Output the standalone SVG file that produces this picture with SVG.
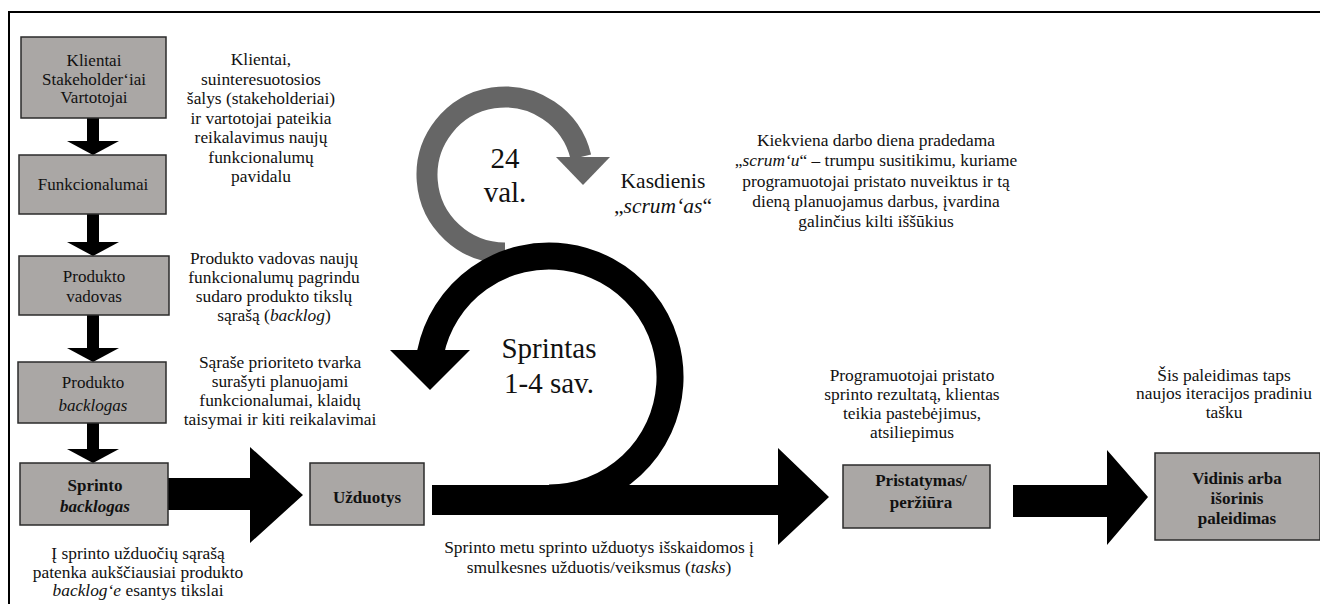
<svg xmlns="http://www.w3.org/2000/svg" width="1320" height="604" viewBox="0 0 1320 604">
<style>
.box{fill:#aaa7a5;stroke:#2b2b2b;stroke-width:1.5}
.t{font-family:"Liberation Serif","Times New Roman",Tinos,serif;font-size:17.4px;fill:#111;text-anchor:middle}
.bx{font-size:17px}
.b{font-weight:bold}
.i{font-style:italic}
.big{font-size:29px}
.mid{font-size:21.5px}
.blk{fill:#000}
.gry{fill:#666}
</style>
<rect x="0" y="0" width="1320" height="604" fill="#fff"/>
<rect x="9" y="12" width="1330" height="620" fill="none" stroke="#000" stroke-width="2"/>

<g id="connectors">
  <rect class="blk" x="87" y="118" width="12" height="24"/>
  <polygon class="blk" points="67,141 119,141 93,155"/>
  <rect class="blk" x="87" y="214" width="12" height="29"/>
  <polygon class="blk" points="67,242 119,242 93,256"/>
  <rect class="blk" x="87" y="315" width="12" height="34"/>
  <polygon class="blk" points="67,348 119,348 93,362"/>
  <rect class="blk" x="87" y="423" width="12" height="27"/>
  <polygon class="blk" points="67,449 119,449 93,463"/>
  <polygon class="blk" points="168,478 250,478 250,447 303,495 250,543 250,510 168,510"/>
  <path d="M 505 253 A 78 78 0 1 1 580.9 157" fill="none" stroke="#666" stroke-width="21"/>
  <polygon class="gry" points="556,157 610,157 583,185"/>
  <path d="M 549 498 A 121 121 0 1 0 430.5 352.7" fill="none" stroke="#000" stroke-width="27"/>
  <polygon class="blk" points="390,350 470,350 430,390"/>
  <polygon class="blk" points="432,485 778,485 778,448 829,497 778,545 778,515 432,515"/>
  <polygon class="blk" points="1013,485 1107,485 1107,450 1148,497 1107,545 1107,517 1013,517"/>
</g>

<g id="n-klientai">
  <rect class="box" x="21" y="37" width="145" height="81"/>
  <text class="t bx" x="94" y="66">Klientai</text>
  <text class="t bx" x="94" y="85">Stakeholder‘iai</text>
  <text class="t bx" x="94" y="103">Vartotojai</text>
</g>
<g id="n-funkcionalumai">
  <rect class="box" x="19" y="155" width="147" height="59"/>
  <text class="t bx" x="93" y="190">Funkcionalumai</text>
</g>
<g id="n-vadovas">
  <rect class="box" x="19" y="256" width="150" height="59"/>
  <text class="t bx" x="94" y="282">Produkto</text>
  <text class="t bx" x="94" y="302">vadovas</text>
</g>
<g id="n-produkto-backlogas">
  <rect class="box" x="18" y="362" width="148" height="61"/>
  <text class="t bx" x="93" y="388">Produkto</text>
  <text class="t bx i" x="93" y="411">backlogas</text>
</g>
<g id="n-sprinto-backlogas">
  <rect class="box" x="20" y="463" width="148" height="62"/>
  <text class="t bx b" x="95" y="491">Sprinto</text>
  <text class="t bx b i" x="95" y="512">backlogas</text>
</g>
<g id="n-uzduotys">
  <rect class="box" x="310" y="463" width="114" height="62"/>
  <text class="t bx b" x="367" y="503">Užduotys</text>
</g>
<g id="n-pristatymas">
  <rect class="box" x="843" y="465" width="147" height="63"/>
  <text class="t bx b" x="921" y="486">Pristatymas/</text>
  <text class="t bx b" x="921" y="508">peržiūra</text>
</g>
<g id="n-vidinis">
  <rect class="box" x="1155" y="453" width="165" height="87"/>
  <text class="t bx b" x="1237" y="484">Vidinis arba</text>
  <text class="t bx b" x="1237" y="504">išorinis</text>
  <text class="t bx b" x="1237" y="524">paleidimas</text>
</g>

<g id="lbl-24val">
  <text class="t big" x="505" y="168">24</text>
  <text class="t big" x="505" y="202">val.</text>
</g>
<g id="lbl-sprintas">
  <text class="t big" x="549" y="358">Sprintas</text>
  <text class="t big" x="549" y="393">1-4 sav.</text>
</g>
<g id="lbl-kasdienis">
  <text class="t mid" x="663" y="188">Kasdienis</text>
  <text class="t mid" x="663" y="213">„<tspan class="i">scrum‘as</tspan>“</text>
</g>

<g id="note-klientai">
  <text class="t" x="261" y="65">Klientai,</text>
  <text class="t" x="261" y="84.5">suinteresuotosios</text>
  <text class="t" x="261" y="104">šalys (stakeholderiai)</text>
  <text class="t" x="261" y="123.5">ir vartotojai pateikia</text>
  <text class="t" x="261" y="143">reikalavimus naujų</text>
  <text class="t" x="261" y="162.5">funkcionalumų</text>
  <text class="t" x="261" y="182">pavidalu</text>
</g>
<g id="note-vadovas">
  <text class="t" x="274" y="264">Produkto vadovas naujų</text>
  <text class="t" x="274" y="283">funkcionalumų pagrindu</text>
  <text class="t" x="274" y="302">sudaro produkto tikslų</text>
  <text class="t" x="274" y="321">sąrašą (<tspan class="i">backlog</tspan>)</text>
</g>
<g id="note-sarase">
  <text class="t" x="280" y="368">Sąraše prioriteto tvarka</text>
  <text class="t" x="280" y="387">surašyti planuojami</text>
  <text class="t" x="280" y="406">funkcionalumai, klaidų</text>
  <text class="t" x="280" y="425">taisymai ir kiti reikalavimai</text>
</g>
<g id="note-sprinto">
  <text class="t" x="138" y="559">Į sprinto užduočių sąrašą</text>
  <text class="t" x="138" y="577.5">patenka aukščiausiai produkto</text>
  <text class="t" x="138" y="596"><tspan class="i">backlog‘e</tspan> esantys tikslai</text>
</g>
<g id="note-kiekviena">
  <text class="t" x="876" y="146">Kiekviena darbo diena pradedama</text>
  <text class="t" x="876" y="166">„<tspan class="i">scrum‘u</tspan>“ – trumpu susitikimu, kuriame</text>
  <text class="t" x="876" y="187">programuotojai pristato nuveiktus ir tą</text>
  <text class="t" x="876" y="207">dieną planuojamus darbus, įvardina</text>
  <text class="t" x="876" y="227">galinčius kilti iššūkius</text>
</g>
<g id="note-sprinto-metu">
  <text class="t" x="599" y="553">Sprinto metu sprinto užduotys išskaidomos į</text>
  <text class="t" x="599" y="573">smulkesnes užduotis/veiksmus (<tspan class="i">tasks</tspan>)</text>
</g>
<g id="note-programuotojai">
  <text class="t" x="912" y="381">Programuotojai pristato</text>
  <text class="t" x="912" y="400">sprinto rezultatą, klientas</text>
  <text class="t" x="912" y="419">teikia pastebėjimus,</text>
  <text class="t" x="912" y="438">atsiliepimus</text>
</g>
<g id="note-sis">
  <text class="t" x="1224" y="381">Šis paleidimas taps</text>
  <text class="t" x="1224" y="399">naujos iteracijos pradiniu</text>
  <text class="t" x="1224" y="418">tašku</text>
</g>
</svg>
